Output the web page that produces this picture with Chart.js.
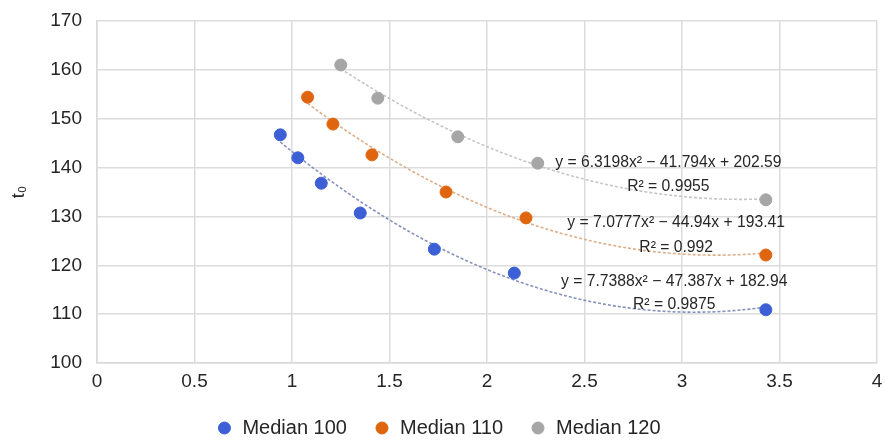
<!DOCTYPE html>
<html>
<head>
<meta charset="utf-8">
<script src="https://cdn.jsdelivr.net/npm/chart.js@4/dist/chart.umd.min.js"></script>
<style>
  html, body { margin: 0; padding: 0; background: #fff; overflow: hidden; }
  #wrap { position: relative; width: 886px; height: 448px; }
</style>
</head>
<body>
<div id="wrap"><canvas id="chart"></canvas></div>
<script>
// Series
const seriesNames = ['Median 100', 'Median 110', 'Median 120'];
const xMedian100 = [0.94, 1.03, 1.15, 1.35, 1.73, 2.14, 3.43];
const yMedian100 = [146.7, 142.0, 136.8, 130.7, 123.3, 118.4, 110.9];
const xMedian110 = [1.08, 1.21, 1.41, 1.79, 2.20, 3.43];
const yMedian110 = [154.4, 148.9, 142.6, 135.0, 129.7, 122.1];
const xMedian120 = [1.25, 1.44, 1.85, 2.26, 3.43];
const yMedian120 = [161.0, 154.2, 146.3, 140.9, 133.4];

// Polynomial trendlines as printed on the chart: y = a x^2 + b x + c
const trendA = [7.7388, 7.0777, 6.3198];
const trendB = [-47.387, -44.94, -41.794];
const trendC = [182.94, 193.41, 202.59];
const trendEq = ['y = 7.7388x² − 47.387x + 182.94', 'y = 7.0777x² − 44.94x + 193.41', 'y = 6.3198x² − 41.794x + 202.59'];
const trendR2 = ['R² = 0.9875', 'R² = 0.992', 'R² = 0.9955'];

// Axis ticks
const xTicks = [0, 0.5, 1, 1.5, 2, 2.5, 3, 3.5, 4];
const yTicks = [100, 110, 120, 130, 140, 150, 160, 170];

const colors = ['#3d5fd6', '#e0650f', '#a6a6a6'];
const trendColors = ['#8592bd', '#dcae88', '#c6c6c6'];
// where the equation labels sit, in data units
const eqAnchor = [[2.96, 116.6, 111.9], [2.97, 128.7, 123.7], [2.93, 140.9, 136.0]];

const xs = [xMedian100, xMedian110, xMedian120];
const ys = [yMedian100, yMedian110, yMedian120];

function trendPoints(i) {
    const lo = Math.min(...xs[i]), hi = Math.max(...xs[i]);
    const pts = [];
    for (let k = 0; k <= 60; k++) {
        const x = lo + (hi - lo) * k / 60;
        pts.push({ x: x, y: trendA[i] * x * x + trendB[i] * x + trendC[i] });
    }
    return pts;
}

const datasets = [];
seriesNames.forEach((name, i) => {
    datasets.push({
        label: name,
        data: xs[i].map((x, k) => ({ x: x, y: ys[i][k] })),
        backgroundColor: colors[i],
        borderColor: colors[i],
        pointRadius: 6,
        pointHoverRadius: 6,
        showLine: false,
        order: 1
    });
});
seriesNames.forEach((name, i) => {
    datasets.push({
        label: name + ' trend',
        data: trendPoints(i),
        borderColor: trendColors[i],
        borderWidth: 1.6,
        borderDash: [3, 2],
        pointRadius: 0,
        showLine: true,
        fill: false,
        tension: 0,
        order: 2
    });
});

const equationLabels = {
    id: 'equationLabels',
    afterDatasetsDraw(chart) {
        const ctx = chart.ctx;
        const xs = chart.scales.x, ys = chart.scales.y;
        ctx.save();
        ctx.font = '15.7px "Liberation Sans", Arial, sans-serif';
        ctx.fillStyle = '#262626';
        ctx.textAlign = 'center';
        ctx.textBaseline = 'middle';
        eqAnchor.forEach((a, i) => {
            const px = xs.getPixelForValue(a[0]);
            ctx.fillText(trendEq[i], px, ys.getPixelForValue(a[1]));
            ctx.fillText(trendR2[i], px, ys.getPixelForValue(a[2]));
        });
        ctx.restore();
    }
};

const tickFont = { family: '"Liberation Sans", Arial, sans-serif', size: 19 };

new Chart(document.getElementById('chart'), {
    type: 'scatter',
    data: { datasets: datasets },
    plugins: [equationLabels],
    options: {
        responsive: true,
        maintainAspectRatio: false,
        animation: false,
        layout: { padding: { left: 0, right: 9, top: 21, bottom: 0 } },
        plugins: {
            tooltip: { enabled: false },
            legend: {
                position: 'bottom',
                labels: {
                    filter: (item) => item.datasetIndex < 3,
                    usePointStyle: true,
                    pointStyle: 'circle',
                    boxWidth: 16,
                    boxHeight: 8.5,
                    padding: 27,
                    color: '#262626',
                    font: { family: '"Liberation Sans", Arial, sans-serif', size: 20 }
                }
            }
        },
        scales: {
            x: {
                type: 'linear',
                min: 0,
                max: 4,
                afterBuildTicks: (s) => { s.ticks = xTicks.map(v => ({ value: v })); },
                afterFit: (s) => { s.height = 28; s.paddingLeft = 0; s.paddingRight = 0; },
                border: { color: '#d9d9d9', width: 1.5 },
                grid: { color: '#dcdcdc', lineWidth: 1.5, drawTicks: false },
                ticks: { color: '#262626', font: tickFont, padding: 7, callback: (v) => String(v) }
            },
            y: {
                min: 100,
                max: 170,
                afterBuildTicks: (s) => { s.ticks = yTicks.map(v => ({ value: v })); },
                afterFit: (s) => { s.width = 97; s.paddingTop = 0; s.paddingBottom = 0; },
                border: { color: '#d9d9d9', width: 1.5 },
                grid: { color: '#dcdcdc', lineWidth: 1.5, drawTicks: false },
                ticks: { color: '#262626', font: tickFont, padding: 15, callback: (v) => String(v) },
                title: {
                    display: true,
                    text: 't₀',
                    color: '#262626',
                    font: { family: '"Liberation Sans", Arial, sans-serif', size: 18 },
                    padding: { top: 8, bottom: 0 }
                }
            }
        }
    }
});
</script>
</body>
</html>
